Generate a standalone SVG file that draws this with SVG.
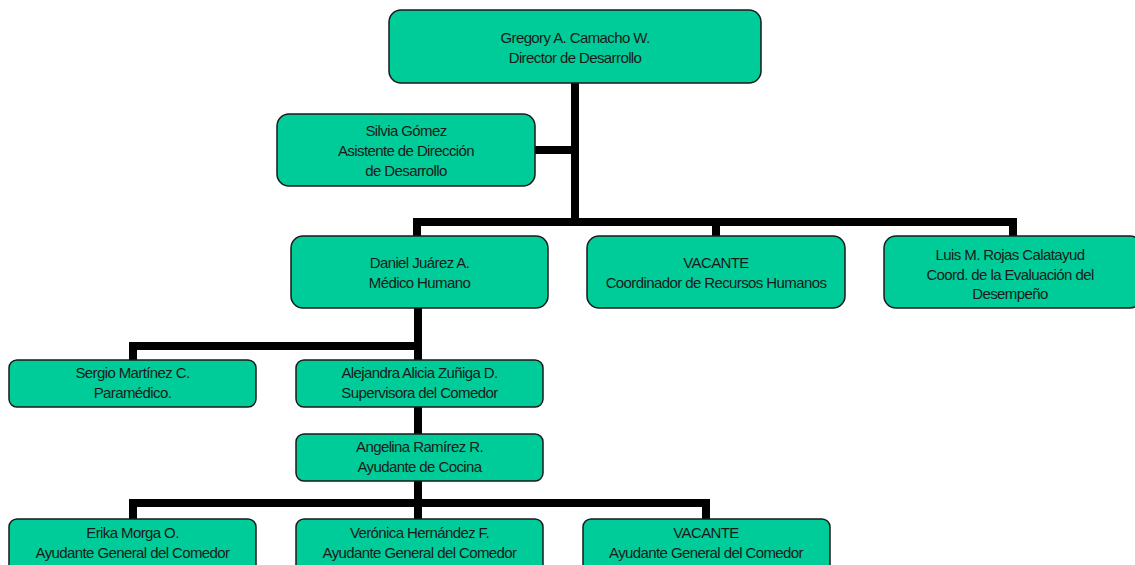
<svg xmlns="http://www.w3.org/2000/svg" width="1135" height="565" viewBox="0 0 1135 565">
<style>
.box{fill:#00CC99;stroke:#1a1a1a;stroke-width:1.5}
.t{font-family:"Liberation Sans",Arial,sans-serif;font-size:15px;fill:#1a1a1a;text-anchor:middle;letter-spacing:-0.6px}
.c{fill:none;stroke:#000;stroke-width:8;stroke-linecap:butt;stroke-linejoin:miter}
</style>
<rect width="1135" height="565" fill="#fff"/>
<g id="connectors">
<path class="c" d="M575 83 V222 M535 150 H575 M417 240 V222 H1013 V240 M716 222 V240"/>
<path class="c" d="M418 308 V362 M133 362 V346 H418 M418 407 V435"/>
<path class="c" d="M418 481 V521 M133 521 V503 H706 V521"/>
</g>
<g id="n1"><rect class="box" x="389" y="10" width="372" height="73" rx="12"/>
<text class="t" x="575" y="43">Gregory A. Camacho W.</text><text class="t" x="575" y="63">Director de Desarrollo</text></g>
<g id="n2"><rect class="box" x="277" y="114" width="258" height="72" rx="12"/>
<text class="t" x="406" y="136">Silvia Gómez</text><text class="t" x="406" y="156">Asistente de Dirección</text><text class="t" x="406" y="176">de Desarrollo</text></g>
<g id="n3"><rect class="box" x="291" y="236" width="257" height="72" rx="12"/>
<text class="t" x="419.5" y="268">Daniel Juárez A.</text><text class="t" x="419.5" y="288">Médico Humano</text></g>
<g id="n4"><rect class="box" x="587" y="236" width="258" height="72" rx="12"/>
<text class="t" x="716" y="268">VACANTE</text><text class="t" x="716" y="288">Coordinador de Recursos Humanos</text></g>
<g id="n5"><rect class="box" x="884" y="236" width="258" height="72" rx="12"/>
<text class="t" x="1010" y="260">Luis M. Rojas Calatayud</text><text class="t" x="1010" y="280">Coord. de la Evaluación del</text><text class="t" x="1010" y="299">Desempeño</text></g>
<g id="n6"><rect class="box" x="9" y="360" width="247" height="47" rx="8"/>
<text class="t" x="132.5" y="378">Sergio Martínez C.</text><text class="t" x="132.5" y="398">Paramédico.</text></g>
<g id="n7"><rect class="box" x="296" y="360" width="247" height="47" rx="8"/>
<text class="t" x="419.5" y="378">Alejandra Alicia Zuñiga D.</text><text class="t" x="419.5" y="398">Supervisora del Comedor</text></g>
<g id="n8"><rect class="box" x="296" y="434" width="247" height="47" rx="8"/>
<text class="t" x="419.5" y="452">Angelina Ramírez R.</text><text class="t" x="419.5" y="472">Ayudante de Cocina</text></g>
<g id="n9"><rect class="box" x="9" y="519" width="247" height="60" rx="8"/>
<text class="t" x="132.5" y="538">Erika Morga O.</text><text class="t" x="132.5" y="558">Ayudante General del Comedor</text></g>
<g id="n10"><rect class="box" x="296" y="519" width="247" height="60" rx="8"/>
<text class="t" x="419.5" y="538">Verónica Hernández F.</text><text class="t" x="419.5" y="558">Ayudante General del Comedor</text></g>
<g id="n11"><rect class="box" x="583" y="519" width="247" height="60" rx="8"/>
<text class="t" x="706" y="538">VACANTE</text><text class="t" x="706" y="558">Ayudante General del Comedor</text></g>
</svg>
